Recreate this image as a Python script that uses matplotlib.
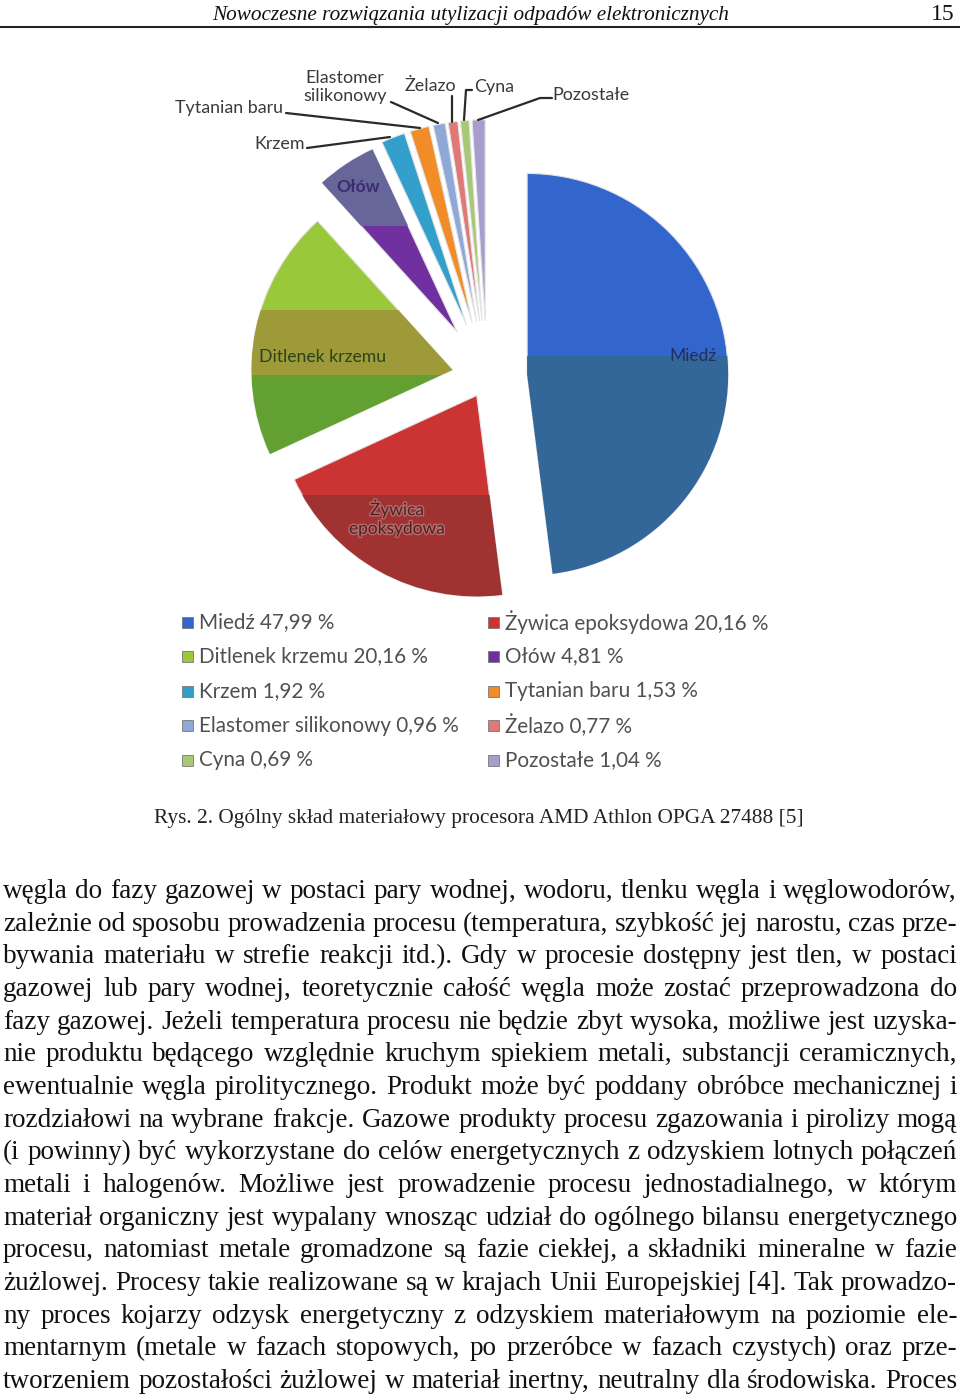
import matplotlib
matplotlib.use('Agg')
import matplotlib.pyplot as plt
import matplotlib.patheffects as pe
from matplotlib.patches import Rectangle

W, H = 960, 1397

# ****Chart data****
labels = ['Miedź', 'Żywica epoksydowa', 'Ditlenek krzemu', 'Ołów', 'Krzem',
          'Tytanian baru', 'Elastomer silikonowy', 'Żelazo', 'Cyna', 'Pozostałe']
values = [47.99, 20.16, 20.16, 4.81, 1.92, 1.53, 0.96, 0.77, 0.69, 1.04]
colors = ['#3366CC', '#CC3333', '#99C93A', '#7030A0', '#33A0CC',
          '#F28C28', '#8FA8D8', '#E07878', '#A8C878', '#A89CCC']
explode = [0.20, 0.105, 0.175, 0.27, 0.28, 0.28, 0.28, 0.28, 0.28, 0.28]

header = 'Nowoczesne rozwiązania utylizacji odpadów elektronicznych'
page_no = '15'
caption = 'Rys. 2. Ogólny skład materiałowy procesora AMD Athlon OPGA 27488 [5]'
body = [
    'węgla do fazy gazowej w postaci pary wodnej, wodoru, tlenku węgla i węglowodorów,',
    'zależnie od sposobu prowadzenia procesu (temperatura, szybkość jej narostu, czas prze-',
    'bywania materiału w strefie reakcji itd.). Gdy w procesie dostępny jest tlen, w postaci',
    'gazowej lub pary wodnej, teoretycznie całość węgla może zostać przeprowadzona do',
    'fazy gazowej. Jeżeli temperatura procesu nie będzie zbyt wysoka, możliwe jest uzyska-',
    'nie produktu będącego względnie kruchym spiekiem metali, substancji ceramicznych,',
    'ewentualnie węgla pirolitycznego. Produkt może być poddany obróbce mechanicznej i',
    'rozdziałowi na wybrane frakcje. Gazowe produkty procesu zgazowania i pirolizy mogą',
    '(i powinny) być wykorzystane do celów energetycznych z odzyskiem lotnych połączeń',
    'metali i halogenów. Możliwe jest prowadzenie procesu jednostadialnego, w którym',
    'materiał organiczny jest wypalany wnosząc udział do ogólnego bilansu energetycznego',
    'procesu, natomiast metale gromadzone są fazie ciekłej, a składniki mineralne w fazie',
    'żużlowej. Procesy takie realizowane są w krajach Unii Europejskiej [4]. Tak prowadzo-',
    'ny proces kojarzy odzysk energetyczny z odzyskiem materiałowym na poziomie ele-',
    'mentarnym (metale w fazach stopowych, po przeróbce w fazach czystych) oraz prze-',
    'tworzeniem pozostałości żużlowej w materiał inertny, neutralny dla środowiska. Proces',
]


def Y(y):
    # page pixel rows (top down) -> data coords (bottom up)
    return H - y


fig = plt.figure(figsize=(W / 100, H / 100), dpi=100)
ax = fig.add_axes([0, 0, 1, 1])

# ****Pie****
R = 201
wedges, _ = ax.pie(values, colors=colors, explode=[e * R for e in explode],
                   startangle=90, counterclock=False, radius=R,
                   center=(487, Y(377)),
                   wedgeprops=dict(linewidth=0.8, edgecolor='#e4e4e4'))
ax.set_xlim(0, W)
ax.set_ylim(0, H)
ax.set_aspect('equal')
ax.axis('off')

# shaded bands like the original gradient rendering
bands = [(0, 356, 620, '#336699'),
         (1, 495, 620, '#A03232'),
         (2, 310, 375, '#9E9A3A'),
         (2, 375, 620, '#62A032'),
         (3, 100, 226, '#666699')]
for i, y0, y1, c in bands:
    r = Rectangle((0, Y(y1)), W, y1 - y0, facecolor=c, edgecolor='none')
    ax.add_patch(r)
    r.set_clip_path(wedges[i])

lab = ['Lato', 'DejaVu Sans']
ax.text(693, Y(356), 'Miedź', fontsize=12.5, color='#1F3060', family=lab,
        ha='center', va='center')
ax.text(323, Y(357), 'Ditlenek krzemu', fontsize=12.7, color='#2A4418',
        family=lab, ha='center', va='center')
ax.text(358, Y(187), 'Ołów', fontsize=12.5, color='#3A2A70', family=lab,
        ha='center', va='center', fontweight='bold')
ax.text(397, Y(518), 'Żywica\nepoksydowa', fontsize=12.5, color='#4A2424',
        family=lab, ha='center', va='center', linespacing=1.2,
        path_effects=[pe.withStroke(linewidth=2, foreground='#B86A6A')])

# outside labels with leader lines
outer = [('Tytanian baru', 229, 108, [(286, 113), (420, 128)]),
         ('Elastomer\nsilikonowy', 345, 87, [(391, 102), (438, 123)]),
         ('Krzem', 280, 144, [(307, 148), (390, 137)]),
         ('Żelazo', 430, 86, [(452, 96), (452, 122)]),
         ('Cyna', 494, 87, [(472, 90), (466, 90), (464, 120)]),
         ('Pozostałe', 591, 95, [(552, 98), (540, 98), (478, 120)])]
for txt, tx, ty, pts in outer:
    ax.text(tx, Y(ty), txt, fontsize=12.9, color='#3A3A3A', family=lab,
            ha='center', va='center', linespacing=1.2)
    ax.plot([p[0] for p in pts], [Y(p[1]) for p in pts], color='#2A2A2A',
            lw=1.6, solid_capstyle='round')

# ****Legend****
for i, (name, v) in enumerate(zip(labels, values)):
    col, row = i % 2, i // 2
    x0 = 182 if col == 0 else 488
    y0 = 622 + row * 34.5
    ax.add_patch(Rectangle((x0, Y(y0) - 5.5), 11, 11, facecolor=colors[i],
                           edgecolor='#777777', lw=0.6))
    ax.text(x0 + 17, Y(y0), '%s %s %%' % (name, ('%.2f' % v).replace('.', ',')),
            fontsize=14.9, color='#505050', family=lab, ha='left', va='center')

# ****Page text****
serif = ['Liberation Serif', 'DejaVu Serif']
ax.text(471, Y(20), header, fontsize=15.3, style='italic', family=serif,
        ha='center', va='baseline', color='#111111')
ax.text(955, Y(20), page_no, fontsize=17, family=serif, ha='right',
        va='baseline', color='#111111')
ax.plot([0, W], [Y(27), Y(27)], color='#222222', lw=1.5)

ax.text(479, Y(823), caption, fontsize=15.4, family=serif, ha='center',
        va='baseline', color='#222222')

# justified body text
renderer = fig.canvas.get_renderer()
body_size = 19.5
left, right = 3, 957
for n, line in enumerate(body):
    yb = Y(898 + n * 32.67)
    words = line.split(' ')
    objs = [ax.text(0, yb, w, fontsize=body_size, family=serif,
                    va='baseline', ha='left', color='#111111') for w in words]
    widths = [t.get_window_extent(renderer).width for t in objs]
    gap = (right - left - sum(widths)) / (len(words) - 1)
    x = left
    for t, wd in zip(objs, widths):
        t.set_x(x)
        x += wd + gap

fig.savefig('out.png', dpi=100)
